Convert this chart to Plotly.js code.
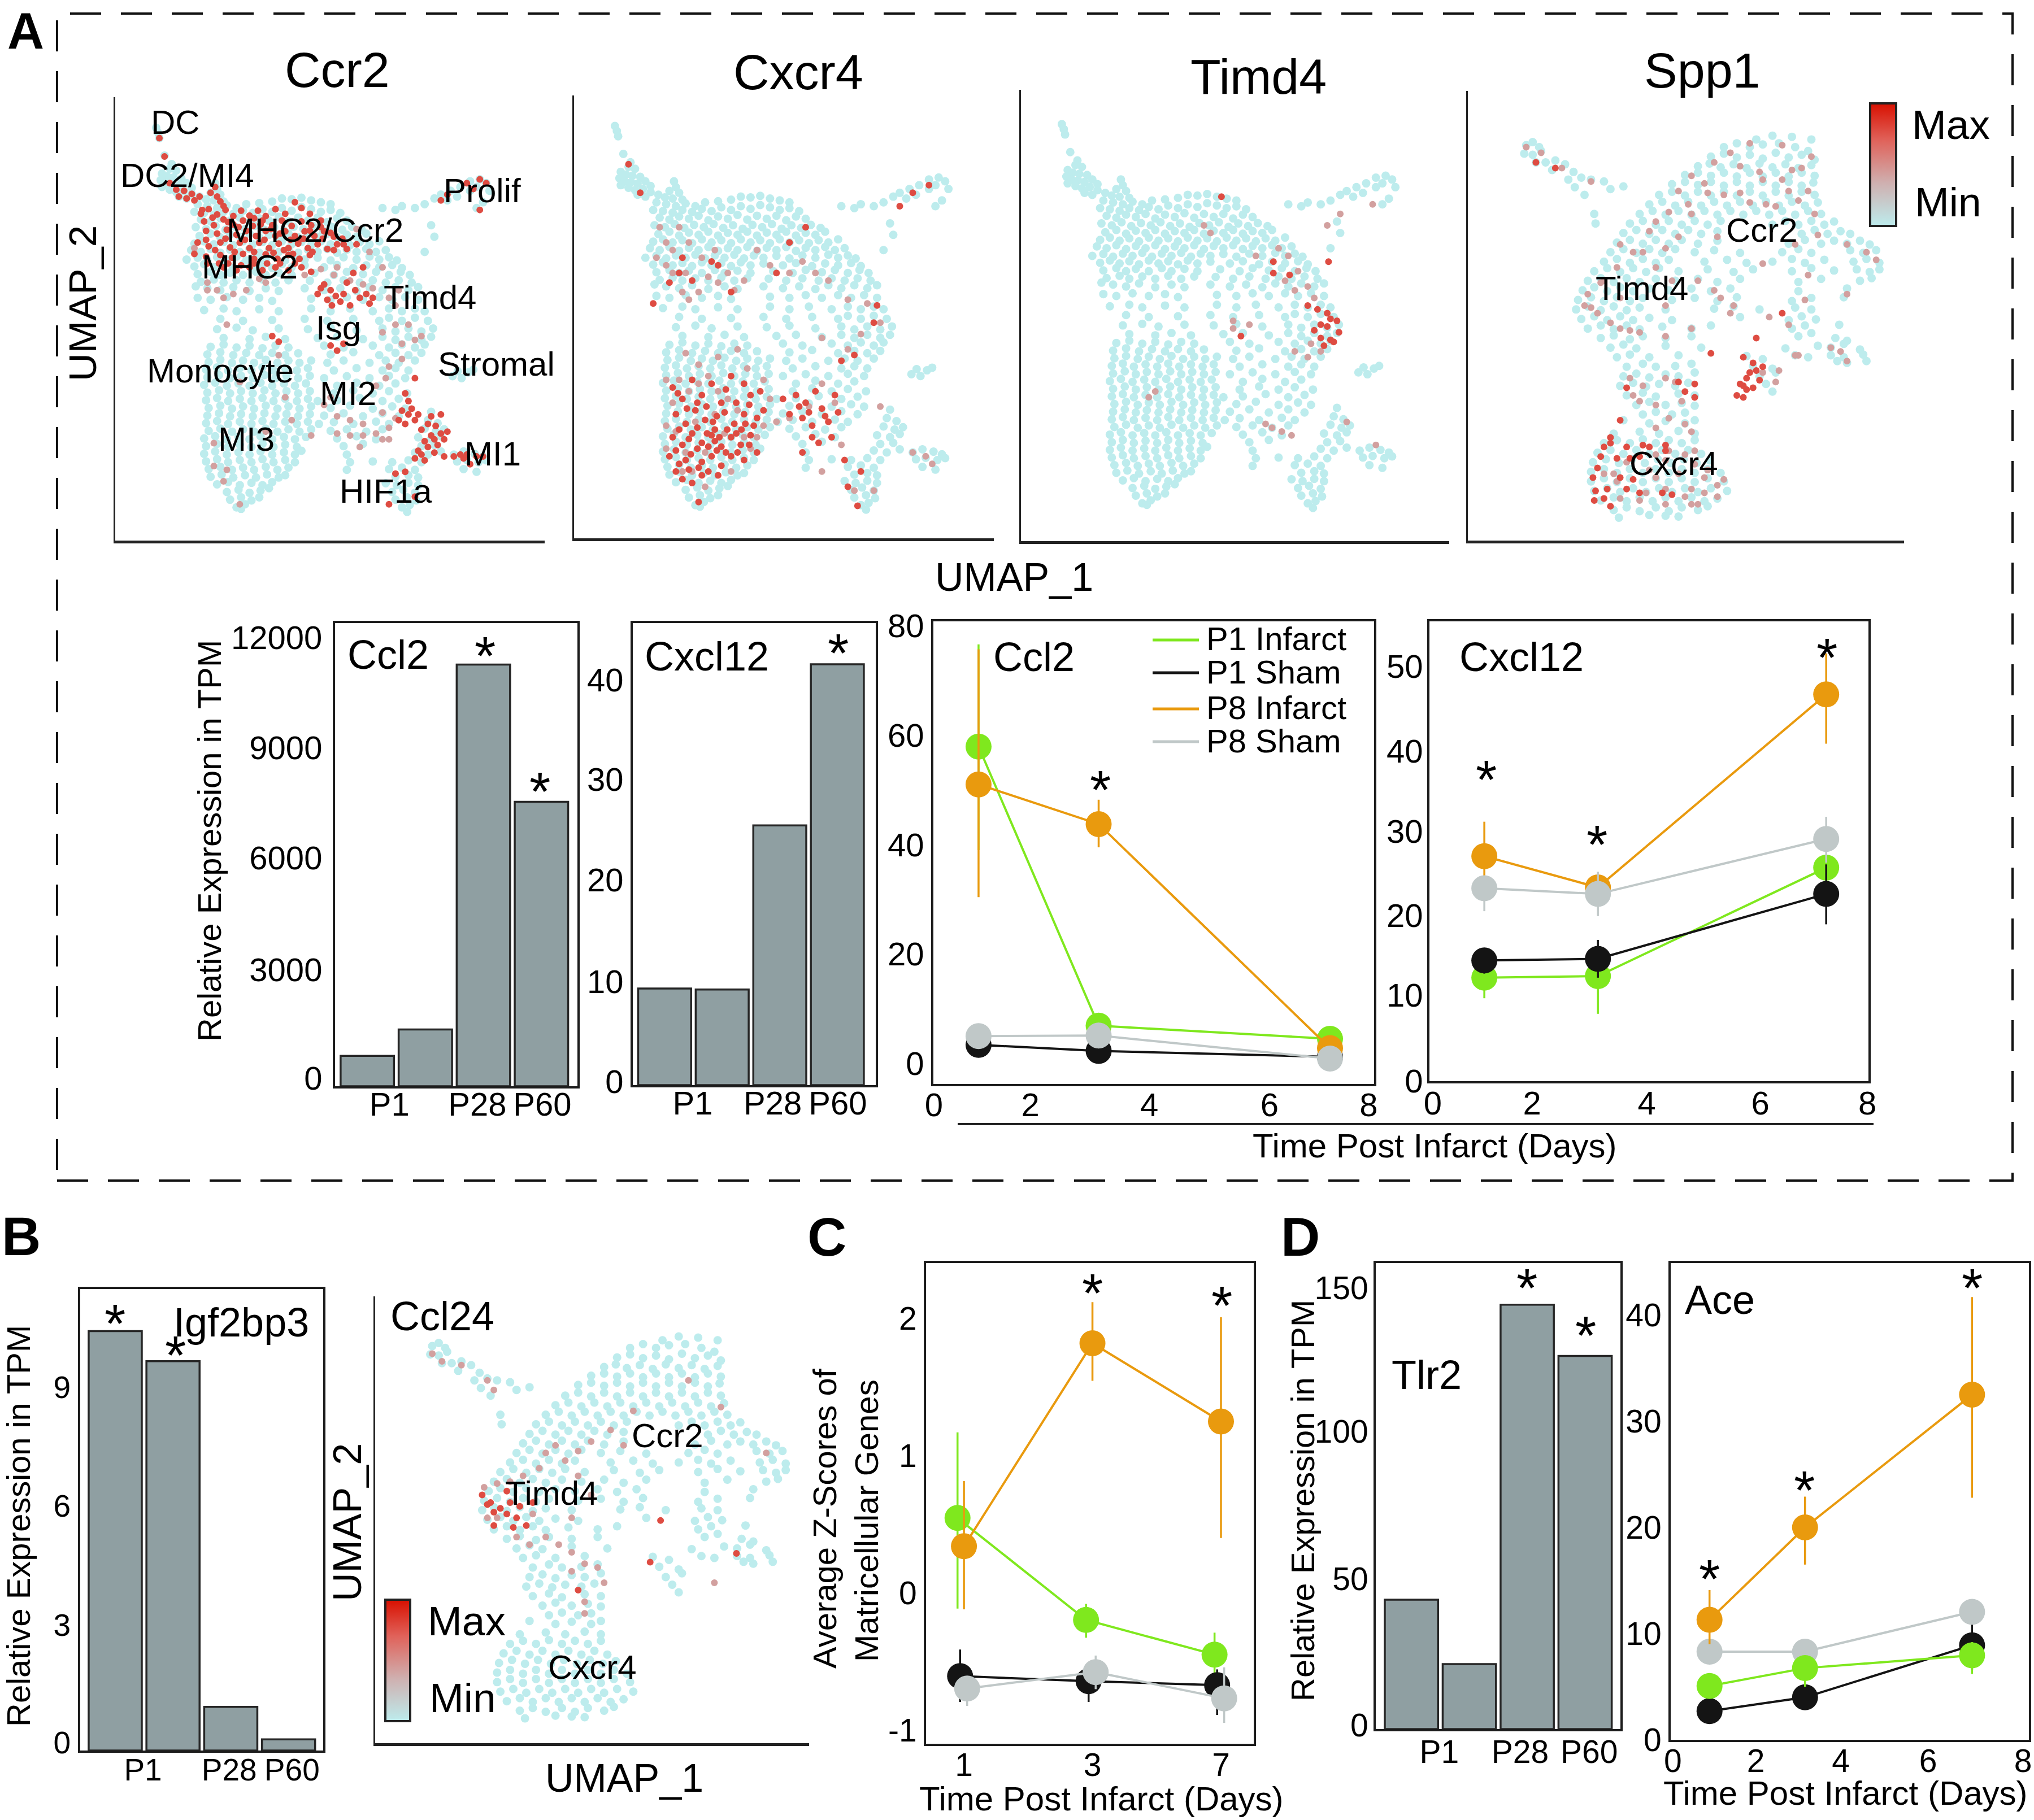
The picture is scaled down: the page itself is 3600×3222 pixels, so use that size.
<!DOCTYPE html>
<html><head><meta charset="utf-8">
<script src="https://cdn.plot.ly/plotly-3.0.1.min.js"></script>
<style>html,body{margin:0;padding:0;background:#fff}</style></head>
<body><div id="chart" style="width:3600px;height:3222px"></div>
<script>
/* ---------- bar charts ---------- */
const barPositions=[0,1,2,3];
const stageLabels=['P1','P28','P60'];
const ccl2Bars=[813,1519,11293,7616];
const cxcl12Bars=[9.6,9.5,25.8,41.8];
const igf2bp3Bars=[10.58,9.82,1.1,0.28];
const tlr2Bars=[44.4,22.3,145.6,128];
/* ---------- time courses: mean, upper, lower ---------- */
const ccl2Days=[0.82,3,7.2];
const ccl2P1I=[57.9,6.9,4.5],ccl2P1IHi=[76.6,6.9,4.5],ccl2P1ILo=[39,6.9,4.5];
const ccl2P1S=[3.4,2.3,1.2],ccl2P1SHi=[3.4,2.3,1.2],ccl2P1SLo=[3.4,2.3,1.2];
const ccl2P8I=[51,43.75,2.8],ccl2P8IHi=[75.7,48.2,4.5],ccl2P8ILo=[30.4,39.5,1.5];
const ccl2P8S=[5,5.1,0.9],ccl2P8SHi=[5,5.1,0.9],ccl2P8SLo=[5,5.1,0.9];
const cxcl12Days=[1,3.07,7.23];
const cxcl12P1I=[12.1,12.3,25.5],cxcl12P1IHi=[15,15.6,27],cxcl12P1ILo=[9.6,7.7,24];
const cxcl12P1S=[14.2,14.4,22.3],cxcl12P1SHi=[15.6,16.7,25.9],cxcl12P1SLo=[12.6,12.1,18.6];
const cxcl12P8I=[26.9,23.1,46.6],cxcl12P8IHi=[31.1,24.5,51.6],cxcl12P8ILo=[22.7,21.6,40.6];
const cxcl12P8S=[23,22.3,29],cxcl12P8SHi=[24.4,25,31.7],cxcl12P8SLo=[20.2,19.6,26.1];
const matriIdx=[0,1,2];
const matriDays=['1','3','7'];
const matriP1I=[0.546,-0.197,-0.45],matriP1IHi=[1.17,-0.08,-0.29],matriP1ILo=[-0.115,-0.327,-0.616];
const matriP1S=[-0.607,-0.644,-0.673],matriP1SHi=[-0.413,-0.53,-0.558],matriP1SLo=[-0.795,-0.795,-0.89];
const matriP8I=[0.34,1.82,1.25],matriP8IHi=[0.815,2.12,2.01],matriP8ILo=[-0.12,1.546,0.4];
const matriP8S=[-0.697,-0.578,-0.769],matriP8SHi=[-0.616,-0.457,-0.543],matriP8SLo=[-0.824,-0.702,-0.948];
const aceDays=[0.867,3,6.73];
const aceP1I=[5.07,6.75,7.95],aceP1IHi=[5.07,7.5,9.2],aceP1ILo=[5.07,5,6.2];
const aceP1S=[2.7,4,8.9],aceP1SHi=[2.7,4,11.2],aceP1SLo=[2.7,4,6.6];
const aceP8I=[11.3,20,32.5],aceP8IHi=[14.1,22.9,41.7],aceP8ILo=[9,16.5,22.8];
const aceP8S=[8.3,8.3,12.05],aceP8SHi=[8.3,8.3,12.05],aceP8SLo=[8.3,8.3,12.05];
/* ---------- UMAP embedding shared by Ccr2, Cxcr4, Timd4 (x,y pairs) ---------- */
const embedA=[241,335,244,348,246,362,254,408,265,430,262,442,272,447,250,455,258,462,268,465,280,468,248,472,256,480,266,482,276,486,288,480,296,492,250,490,262,497,272,503,284,500,296,508,308,515,276,515,288,520,332,480,335,495,325,505,340,510,318,522,330,525,345,528,
305,535,320,540,335,545,350,538,365,545,380,535,400,532,420,528,435,520,450,522,465,518,480,525,495,530,510,535,300,555,315,558,330,562,345,555,360,560,375,552,390,558,405,548,420,555,435,545,450,552,465,542,480,548,495,555,510,550,525,558,
310,575,325,580,340,572,355,578,370,570,385,582,400,572,415,578,430,568,445,580,460,570,475,578,490,570,505,582,520,572,535,578,302,595,318,600,333,592,348,602,363,594,378,600,393,592,408,602,423,595,438,604,453,594,468,600,483,592,498,604,513,595,528,602,543,594,558,602,
308,618,325,612,340,622,355,614,370,620,385,612,400,622,415,615,430,620,445,612,460,622,475,614,490,620,505,612,520,622,535,615,550,620,565,612,300,638,315,632,330,640,345,634,360,642,375,632,390,640,405,634,420,642,435,632,450,640,465,634,480,642,495,632,510,640,525,634,540,642,555,634,570,640,585,632,
295,655,310,660,325,652,340,662,355,654,370,660,385,652,400,662,415,655,430,660,445,652,460,662,475,654,490,660,505,652,520,662,535,654,550,660,565,652,580,660,595,655,288,680,305,675,320,682,335,674,350,680,365,672,380,682,395,674,410,680,425,672,440,682,455,674,470,680,490,675,510,682,530,674,550,680,570,672,585,680,600,674,612,682,
300,698,315,692,330,700,345,694,360,702,375,692,390,700,405,694,420,702,435,692,450,700,470,695,500,700,520,694,545,702,565,695,585,700,605,694,620,702,305,718,325,712,340,720,355,714,375,720,395,712,410,720,430,714,450,720,485,715,515,720,535,712,560,718,580,712,600,720,618,712,632,720,
310,738,330,732,345,740,365,734,385,740,405,732,425,740,445,734,478,735,505,740,530,734,555,740,575,734,595,740,615,734,635,740,302,750,320,755,340,760,360,752,385,762,410,755,430,762,470,755,500,760,525,755,550,762,570,752,590,760,610,752,630,760,645,752,
305,780,325,785,350,778,375,785,400,780,420,788,480,782,510,785,535,778,560,785,585,778,605,785,625,778,645,785,315,812,345,808,365,815,400,810,430,815,480,808,510,815,540,808,575,815,600,808,620,815,640,808,655,815,340,835,375,840,420,838,470,835,505,840,545,835,585,840,600,832,620,840,640,832,660,840,
335,862,365,858,390,865,430,860,475,862,510,858,550,865,590,860,610,868,630,860,650,868,668,860,345,885,385,888,410,882,440,888,490,885,520,882,560,888,590,882,610,890,630,882,650,890,665,882,325,908,345,902,365,910,385,905,405,912,425,905,445,910,500,905,530,910,575,905,600,910,620,902,640,910,655,902,
320,928,340,922,360,930,380,924,400,930,420,924,440,930,460,925,510,928,545,922,585,930,610,924,630,930,650,924,322,948,340,942,358,950,375,944,392,950,410,942,428,950,445,944,462,950,480,944,505,950,530,944,570,950,595,944,615,950,640,944,318,968,335,962,352,970,370,964,388,970,405,962,422,970,440,964,458,970,475,964,515,970,550,964,590,970,610,964,630,970,698,985,712,990,722,975,730,968,706,972,
320,988,338,982,355,990,372,984,390,990,408,982,425,990,442,984,460,990,478,984,500,990,535,985,570,990,600,984,625,990,315,1008,332,1002,350,1010,368,1004,385,1010,402,1002,420,1010,438,1004,455,1010,472,1004,520,1010,550,1002,585,1010,610,1004,320,1028,338,1022,355,1030,372,1024,390,1030,408,1022,425,1030,442,1024,460,1030,478,1024,515,1030,545,1022,575,1030,600,1024,628,1030,
318,1048,335,1042,352,1050,370,1044,388,1050,405,1042,422,1050,440,1044,458,1050,475,1044,490,1050,520,1048,555,1042,590,1050,615,1044,322,1068,340,1062,358,1070,375,1064,392,1070,410,1062,428,1070,445,1064,462,1070,480,1064,510,1068,540,1062,575,1070,605,1064,625,1070,320,1088,338,1082,355,1090,372,1084,390,1090,408,1082,425,1090,442,1084,460,1090,478,1084,500,1088,530,1082,560,1090,590,1082,615,1090,665,1078,
318,1108,335,1102,352,1110,370,1104,388,1110,405,1102,422,1110,440,1104,458,1110,475,1104,492,1110,515,1105,545,1110,580,1104,600,1110,660,1100,675,1108,322,1128,340,1122,358,1130,375,1124,392,1130,410,1122,428,1130,445,1124,462,1130,480,1124,510,1128,535,1124,565,1130,590,1124,655,1122,672,1130,685,1124,315,1148,332,1142,350,1150,368,1144,385,1150,402,1142,420,1150,438,1144,455,1150,472,1144,520,1148,550,1142,580,1150,645,1145,665,1150,680,1142,
318,1168,335,1162,352,1170,370,1164,388,1170,405,1162,422,1170,440,1164,458,1170,530,1168,560,1162,650,1168,670,1165,315,1188,332,1182,350,1190,368,1184,385,1190,402,1182,420,1190,438,1184,455,1190,465,1180,535,1190,640,1185,660,1190,680,1182,700,1190,715,1182,732,1188,745,1195,318,1208,335,1202,352,1210,370,1204,388,1210,405,1202,422,1210,440,1204,455,1210,540,1210,575,1208,605,1210,630,1205,650,1210,705,1208,720,1204,738,1210,750,1205,
322,1228,340,1222,358,1230,375,1224,392,1230,410,1222,428,1230,445,1224,535,1230,600,1228,620,1224,640,1230,715,1228,735,1235,325,1248,342,1242,360,1250,378,1244,395,1250,412,1242,430,1250,440,1244,610,1248,630,1244,645,1250,335,1268,352,1262,370,1270,388,1264,405,1270,420,1262,595,1265,612,1270,630,1264,645,1270,350,1288,368,1282,385,1290,402,1284,415,1278,605,1288,622,1282,640,1290,355,1308,372,1302,388,1310,400,1302,610,1308,628,1302,642,1310,365,1328,378,1320,372,1332,620,1328,632,1322,628,1340,
590,545,610,550,620,540,640,545,655,535,670,520,680,510,695,500,710,490,725,475,740,470,750,480,755,500,745,530,735,545,665,590,670,620,655,660,725,500,705,515,690,525,735,490];
const ccr2Hot=[246,362,254,410,262,480,272,497,284,500,296,508,300,525,308,515,288,520,276,515,332,490,325,505,335,515,340,528,345,540,310,560,322,548,335,562,348,550,360,566,372,552,385,565,398,552,410,566,425,548,440,560,455,530,465,545,478,560,315,580,330,590,345,575,360,588,375,578,390,592,405,578,420,590,435,578,450,592,465,580,480,590,495,578,318,605,335,612,350,602,365,615,380,605,395,618,410,605,425,618,440,606,455,618,470,606,485,618,500,606,515,620,305,635,322,645,340,635,355,648,370,636,385,650,400,636,415,650,430,638,445,650,460,638,475,650,490,640,505,652,520,640,535,652,550,640,300,665,318,672,340,668,358,675,375,665,392,678,410,666,428,678,445,668,462,678,478,668,345,700,365,708,385,700,405,708,425,700,445,708,465,700,480,712,500,745,510,760,518,775,490,770,505,785,525,790,540,800,555,780,570,795,545,715,560,700,530,900,510,905,520,918,420,880,430,895,640,990,625,1030,630,1050,620,1075,630,1085,615,1100,640,1100,625,1110,650,1125,665,1090,680,1085,672,1115,680,1135,665,1140,670,1150,655,1155,685,1150,660,1170,670,1185,650,1190,640,1200,685,1195,700,1195,715,1200,745,1195,725,1215,710,1190,610,1240,625,1235,600,1320,640,1300,690,510,740,470,750,480,730,495,720,480,740,550,680,525,
312,550,328,570,352,582,368,595,392,572,402,588,418,600,432,612,448,628,462,628,478,604,495,595,510,610,528,625,318,628,332,655,348,625,362,660,378,628,392,660,408,628,422,662,438,655,452,665,468,625,482,660,498,625,515,655,530,640,320,690,338,690,352,690,372,695,392,690,412,690,432,690,455,690,495,755,530,770,512,800,548,760,565,770,575,780,535,740,635,1070,645,1085,660,1110,690,1130,675,1165,645,1180,655,1205,720,1190,735,1195];
const ccr2Warm=[300,650,345,780,350,850,320,760,500,1060,520,1090,560,1110,580,1135,600,1120,590,1150,540,1100,510,1040,600,960,620,900,640,890,610,850,590,870,370,1000,330,1220,345,1260,370,1320,550,600,570,660,590,700,520,700,410,740,380,760,440,1040,410,1130,600,780,615,760,560,745,430,930,
320,740,335,760,360,770,400,730,470,720,495,705,515,720,540,735,575,755,610,800,630,850,650,880,620,940,595,990,580,1010,450,1100,480,1140,520,1135,560,1140,600,1150,610,1095,590,1080,540,1140,555,1170,330,1160,350,1230];
const cxcr4Hot=[330,1020,345,1050,360,1000,375,1040,390,1010,405,1060,420,990,440,1010,450,1040,465,1030,335,1090,350,1115,365,1080,380,1105,395,1130,410,1085,425,1115,440,1090,455,1120,470,1080,330,1150,345,1170,360,1140,375,1165,390,1145,395,1160,405,1175,420,1150,435,1170,450,1145,325,1200,340,1220,358,1195,375,1215,390,1200,405,1225,420,1200,440,1210,460,1190,345,1260,360,1270,375,1250,370,1320,520,1040,535,1060,550,1030,560,1075,530,1100,545,1120,500,1050,570,1110,575,1150,555,1165,530,1190,595,1210,600,1280,620,1240,615,1330,300,800,325,745,340,720,360,740,390,690,400,700,345,680,420,770,510,640,490,720,535,600,590,950,610,935,640,850,645,805,580,1040,262,435,280,510,700,510,680,545,725,490,
338,1035,352,1075,368,1060,382,1070,398,1095,412,1025,428,1060,436,1130,448,1065,460,1100,340,1130,355,1155,368,1125,383,1140,392,1110,402,1150,414,1130,428,1140,442,1115,335,1185,350,1210,368,1180,385,1175,398,1185,412,1190,430,1190,448,1170,335,1240,355,1235,370,1230,385,1240,400,1250,510,1090,525,1070,540,1085,565,1095,585,1085,545,1150];
const cxcr4Warm=[310,600,320,640,330,660,305,680,340,600,355,640,375,680,395,660,345,770,370,770,400,745,425,765,440,740,460,660,480,700,510,720,530,690,550,720,570,740,600,790,630,800,650,850,620,880,600,920,560,890,340,1000,355,1030,370,1010,385,990,400,1030,415,1050,430,1080,320,1120,335,1135,350,1190,365,1110,380,1190,395,1090,410,1140,440,1150,450,1180,420,1240,380,1280,360,1240,560,1010,510,1100,490,1110,580,1060,540,1070,590,1170,610,1290,560,1240,640,1290,720,1200,700,1190,730,1220,650,1070,
320,1000,330,1060,345,1240,320,1180,350,930,370,960,400,940,430,920,445,970,470,1000,480,1050,470,1120,460,1150,330,720,320,700,350,720,415,720,385,730,355,790];
const timd4Hot=[620,810,635,820,650,830,655,845,640,860,650,865,665,850,630,875,640,895,655,900,668,880,645,915,660,905,567,695,567,725,592,730,652,695,517,890,487,525];
const timd4Warm=[540,680,575,660,590,680,605,720,620,760,630,790,600,770,585,745,505,850,505,870,530,860,600,930,620,945,640,930,625,910,460,600,470,620,385,1035,375,1050,555,1120,565,1130,580,1140,595,1150,680,1115,725,1175,720,545,670,570,650,600];
/* ---------- UMAP embedding shared by Spp1, Ccl24 (x,y pairs) ---------- */
const embedB=[785,380,795,372,805,385,782,402,795,405,808,395,800,425,815,425,830,420,825,445,845,430,858,450,850,470,870,465,885,470,860,490,875,510,905,475,935,488,890,560,892,585,915,495,1140,365,1165,355,1195,358,1225,365,1090,385,1110,375,1130,385,1150,378,1175,375,1200,385,1220,395,1070,410,1090,402,1110,412,1130,405,1150,415,1170,400,1190,412,1210,405,1230,418,1050,435,1068,428,1085,438,1105,430,1125,440,1145,428,1165,438,1185,430,1205,440,1225,432,1030,458,1050,452,1070,460,1090,452,1110,462,1130,452,1150,462,1170,452,1190,462,1210,452,1230,460,
1010,482,1030,476,1050,484,1070,476,1090,486,1110,476,1130,486,1150,476,1170,486,1190,476,1210,486,1228,478,990,510,1010,502,1030,512,1050,502,1070,512,1090,502,1110,512,1130,502,1150,512,1170,502,1190,512,1210,502,1230,510,975,535,995,528,1015,538,1035,528,1055,538,1075,528,1095,538,1115,528,1135,538,1155,528,1175,538,1195,528,1215,538,1235,530,960,560,980,552,1000,562,1020,552,1040,562,1060,552,1080,562,1100,552,1120,562,1140,552,1160,562,1180,552,1200,562,1220,552,1240,560,
945,585,965,578,985,588,1005,578,1025,588,1045,578,1065,588,1085,578,1165,588,1185,578,1205,588,1225,578,1245,588,1260,580,935,610,955,602,975,612,995,602,1015,612,1035,602,1055,612,1080,605,1210,612,1230,602,1250,612,1270,605,1285,612,925,635,945,628,965,638,985,628,1005,638,1025,628,1050,638,1080,630,1190,638,1215,628,1240,638,1260,630,1280,638,1300,630,1315,640,915,660,935,652,955,662,975,652,995,662,1015,652,1045,660,1075,655,1115,662,1180,660,1205,652,1225,662,1285,655,1305,662,1325,655,
905,685,925,678,945,688,965,678,985,688,1005,680,1060,685,1095,680,1125,688,1165,685,1195,678,1215,688,1245,680,1290,685,1310,678,1330,688,890,710,910,702,930,712,950,702,970,712,990,702,1020,710,1065,705,1105,712,1135,705,1195,710,1225,702,1260,708,1295,705,1315,712,1330,705,880,735,900,728,920,738,940,728,960,738,985,730,1015,735,1050,730,1080,738,1115,730,1205,738,1240,730,1300,735,1318,728,872,760,890,752,910,762,930,752,950,762,975,755,1005,760,1040,755,1070,762,1100,755,1205,762,1280,755,
865,785,885,778,905,788,925,778,945,788,965,780,1010,785,1045,780,1080,788,1110,778,1195,788,1225,780,1275,778,862,810,880,802,900,812,920,802,940,812,960,805,1000,810,1075,808,1105,802,1145,810,1200,805,1225,810,870,835,890,828,910,838,930,828,950,838,975,832,1010,838,1115,830,1190,838,1210,828,1232,836,880,860,900,852,920,862,940,852,960,862,995,855,1040,860,1070,852,1195,860,1215,852,1268,850,900,885,920,878,945,888,965,880,1000,885,1040,880,1205,880,1225,872,1262,885,1280,892,
915,910,935,902,955,912,1000,905,1055,910,1185,912,1235,905,1255,910,1275,900,1300,915,925,935,945,928,975,935,1020,930,1125,932,1150,940,1200,930,1220,935,1255,930,1275,935,1305,928,1310,945,940,960,965,952,985,960,1015,958,1040,952,1135,958,1165,965,1265,945,1280,950,935,985,955,978,975,988,1000,980,1020,985,1045,975,1145,985,1170,975,930,1010,950,1002,970,1012,990,1005,1015,1010,1035,1002,1155,1005,940,1035,965,1028,985,1038,1020,1030,1045,1035,1165,1025,955,1060,975,1052,1000,1060,1025,1055,1045,1062,965,1085,985,1078,1010,1085,1030,1080,935,1100,975,1108,1000,1102,1030,1108,1045,1100,920,1135,960,1130,990,1135,1020,1128,1045,1135,
905,1160,925,1152,945,1160,965,1150,985,1160,1005,1152,1025,1160,1045,1152,895,1185,915,1178,935,1188,955,1178,975,1188,995,1178,1015,1188,1035,1178,1055,1188,888,1210,908,1202,928,1212,948,1202,968,1212,988,1202,1008,1212,1028,1202,1048,1212,1068,1205,885,1235,905,1228,925,1238,945,1228,965,1238,985,1228,1005,1238,1025,1228,1045,1238,1065,1228,1085,1238,885,1260,905,1252,925,1262,945,1252,965,1262,985,1252,1005,1262,1025,1252,1045,1262,1065,1252,1090,1260,890,1285,910,1278,930,1288,950,1278,970,1288,990,1278,1010,1288,1030,1278,1050,1288,1070,1278,1095,1285,900,1310,920,1302,940,1312,960,1302,980,1312,1000,1302,1020,1312,1040,1302,1060,1312,1080,1305,920,1335,940,1328,960,1338,985,1328,1005,1338,1025,1328,1050,1335,1065,1325,928,1355,975,1348,1000,1350,1020,1352];
const spp1Hot=[1140,885,1120,935,1135,950,1150,960,1140,970,1125,990,1115,1005,1125,1020,1135,1015,1110,1035,1120,1040,1070,925,1045,1005,940,1015,1020,1000,1030,1025,1045,1040,930,1100,915,1145,905,1170,900,1195,895,1225,888,1250,892,1285,915,1160,940,1170,965,1165,1000,1165,925,1200,960,1195,950,1255,890,1310,915,1325,995,1290,1010,1295,960,1290,940,1280,800,425,830,440,1180,820,1000,1180,975,1170,945,1200,930,1250,910,1280,905,1305,1130,975,1145,995,1120,1010];
const spp1Warm=[785,385,808,400,840,440,885,475,1040,460,1060,480,1100,400,1130,375,1180,380,1210,440,1190,500,1150,470,1020,500,985,580,1040,560,1090,510,1130,530,1170,540,1220,500,1230,560,1080,620,1020,620,965,660,930,640,1150,690,1220,720,1280,770,1310,660,1270,920,1200,930,1100,820,1160,830,1190,850,1040,860,1000,880,960,870,930,860,895,820,875,800,900,740,930,780,1075,760,1105,800,1000,800,920,1240,940,1210,975,1230,1000,1205,1030,1190,1045,1215,1060,1250,1080,1300,1040,1280,1020,1240,985,1250,960,1310,930,1305,1000,1320,1040,1320,945,990,965,1010,1000,990,1025,1050,1015,1000,950,1035,985,1120,1030,1110,1280,945,
1075,425,1115,435,1145,450,1195,445,1225,410,1180,470,1205,525,1155,535,1115,505,1065,505,1035,535,1005,555,975,605,1000,650,950,660,925,700,905,735,880,770,885,805,915,845,945,865,985,700,1010,735,1050,735,1085,780,1215,785,1200,640,1235,615,1280,640,1325,680,1255,910,1205,930,1150,975,1175,970,1170,1000,960,1050,985,1060,1005,1095,1040,1130,1005,1180,985,1190,1045,1180,1065,1230,1000,1280,1030,1300,1060,1290,970,1290,925,1260,905,1240,1090,1255,1080,1270,1050,1320];
const ccl24Hot=[862,770,870,795,880,815,875,790,890,805,900,820,905,790,915,830,920,800,900,760,930,850,880,850,910,855,940,790,1137,837,1121,946,1010,1019,1254,923];
const ccl24Warm=[865,750,885,740,905,735,925,720,950,700,960,660,975,640,990,680,1010,720,1030,770,940,820,960,880,980,900,1000,830,915,880,935,900,885,830,870,830,1060,600,1080,640,1030,630,1010,655,1000,920,1020,950,1040,960,1050,1000,1000,970,1020,1050,785,400,800,420,830,430,870,470,880,495,1095,550,1180,470,1230,540,1020,1080,1220,1000,1300,660];

/* ---------- styling and layout ---------- */
const W=3600,H=3222,FONT='"Liberation Sans", Arial, sans-serif';
const COL={pi:'#7fe81e',ps:'#141414',oi:'#e99a0e',os:'#c0c8c8'};
const heat=[[0,'#bdeced'],[0.35,'#cfb0b0'],[0.7,'#e0625a'],[1,'#d81000']];
const traces=[];
const layout={width:W,height:H,margin:{l:0,r:0,t:0,b:0},paper_bgcolor:'#fff',plot_bgcolor:'rgba(0,0,0,0)',showlegend:false,
  font:{family:FONT,color:'#000'},annotations:[],shapes:[]};
let nAxis=0;
function addAxes(rect,xo,yo){
  nAxis++;const s=nAxis===1?'':nAxis;
  const base={showgrid:false,zeroline:false,ticks:'',automargin:false,color:'#000',tickfont:{family:FONT,color:'#000'}};
  layout['xaxis'+s]=Object.assign({},base,{domain:[rect[0]/W,rect[2]/W],anchor:'y'+s},xo);
  layout['yaxis'+s]=Object.assign({},base,{domain:[1-rect[3]/H,1-rect[1]/H],anchor:'x'+s},yo);
  return {xaxis:'x'+s,yaxis:'y'+s};
}
function note(text,x,y,size,o){
  layout.annotations.push(Object.assign({text:text,x:x/W,y:1-y/H,xref:'paper',yref:'paper',showarrow:false,
    font:{size:size,family:FONT,color:'#000'},xanchor:'center',yanchor:'middle',borderpad:0},o||{}));
}
const star=(x,y)=>note('*',x,y+8,96);
const pair=(a,i)=>a.filter((_,k)=>k%2===i);
function umap(rect,xr,yr,pale,warm,hot,bar){
  const ax=addAxes(rect,{range:xr,showline:true,linecolor:'#222',linewidth:5,showticklabels:false},
                        {range:yr,showline:true,linecolor:'#222',linewidth:3,showticklabels:false});
  const mk=(a,c,sz,extra)=>traces.push(Object.assign({type:'scatter',mode:'markers',x:pair(a,0),y:pair(a,1),hoverinfo:'skip',
    marker:Object.assign({size:sz,line:{width:0},color:a.filter((_,k)=>k%2===0).map(()=>c),colorscale:heat,cmin:0,cmax:1},extra||{})},ax));
  mk(pale,0,15);mk(warm,0.42,12);
  mk(hot,0.78,12,bar?{showscale:true,colorbar:{xref:'paper',yref:'paper',x:bar[0]/W,xanchor:'left',y:1-bar[3]/H,yanchor:'bottom',
    lenmode:'pixels',len:bar[3]-bar[1],thicknessmode:'pixels',thickness:bar[2]-bar[0],xpad:0,ypad:0,ticks:'',showticklabels:false,
    outlinecolor:'#222',outlinewidth:4}}:{});
}
function bars(rect,vals,xr,xt,yr,yv,yt,fs,sx,sy){
  const ax=addAxes(rect,{range:xr,tickmode:'array',tickvals:xt,ticktext:stageLabels,tickfont:{size:fs,family:FONT,color:'#000'},
      showline:true,mirror:true,linecolor:'#1c1c1c',linewidth:4,ticklabelstandoff:sx},
    {range:yr,tickmode:'array',tickvals:yv,ticktext:yt,tickfont:{size:fs,family:FONT,color:'#000'},
      showline:true,mirror:true,linecolor:'#1c1c1c',linewidth:4,ticklabelstandoff:sy});
  traces.push(Object.assign({type:'bar',x:barPositions,y:vals,width:0.92,marker:{color:'#8f9fa2',line:{color:'#262626',width:3.5}},hoverinfo:'y'},ax));
}
function lines(rect,xr,xv,xt,yr,yv,yt,series,fs,sx,sy){
  const ax=addAxes(rect,{range:xr,tickmode:'array',tickvals:xv,ticktext:xt,tickfont:{size:fs,family:FONT,color:'#000'},
      showline:true,mirror:true,linecolor:'#1c1c1c',linewidth:4,ticklabelstandoff:sx},
    {range:yr,tickmode:'array',tickvals:yv,ticktext:yt,tickfont:{size:fs,family:FONT,color:'#000'},
      showline:true,mirror:true,linecolor:'#1c1c1c',linewidth:4,ticklabelstandoff:sy});
  series.forEach(s=>{
    traces.push(Object.assign({type:'scatter',mode:'lines+markers',name:s.name,x:s.x,y:s.y,
      line:{color:s.c,width:4},marker:{color:s.c,size:46,line:{width:0}},
      error_y:{type:'data',symmetric:false,array:s.hi.map((v,i)=>v-s.y[i]),arrayminus:s.lo.map((v,i)=>s.y[i]-v),color:s.c,thickness:3.5,width:0}},ax));
  });
}
const S=(name,c,x,y,hi,lo)=>({name,c,x,y,hi,lo});

/* Panel A: UMAPs */
umap([204,172,964,957],[178,840],[1415,255],embedA,ccr2Warm,ccr2Hot);
umap([1016,169,1759,953],[178,825],[1415,255],embedA,cxcr4Warm,cxcr4Hot);
umap([1807,159,2565,958],[178,838],[1427,245],embedA,timd4Warm,timd4Hot);
umap([2598,161,3370,957],[695,1368],[1415,238],embedB,spp1Warm,spp1Hot,[3310,183,3356,400]);
/* Panel B UMAP */
umap([664,2295,1432,3086],[697,1366],[1420,250],embedB,ccl24Warm,ccl24Hot,[682,2832,726,3047]);

/* Bars */
bars([593,1103,1022,1923],ccl2Bars,[-0.556,3.62],[0.38,1.895,3.016],[0,12406],[213,3116,6116,9068,12019],['0','3000','6000','9000','12000'],58,-22,7);
bars([1120,1103,1550,1921],cxcl12Bars,[-0.553,3.667],[0.488,1.878,3.008],[0,45.9],[0.36,10.3,20.36,30.4,40.25],['0','10','20','30','40'],58,-22,1);
bars([142,2282,572,3099],igf2bp3Bars,[-0.606,3.6],[0.48,1.973,3.06],[0,11.64],[0.2,3.17,6.17,9.17],['0','3','6','9'],55,-17,2);
bars([2435,2236,2868,3061],tlr2Bars,[-0.616,3.61],[0.48,1.877,3.07],[0,159.9],[1.36,51.6,102.2,151.4],['0','50','100','150'],57,-12,-2);

/* Time courses */
const TK=['0','2','4','6','8'];
lines([1652,1100,2432,1919],[0,8],[0.01,1.76,3.92,6.1,7.9],TK,[-3.75,80.8],[0,20,40,60,80],['0','20','40','60','80'],[
  S('P1 Infarct',COL.pi,ccl2Days,ccl2P1I,ccl2P1IHi,ccl2P1ILo),S('P1 Sham',COL.ps,ccl2Days,ccl2P1S,ccl2P1SHi,ccl2P1SLo),
  S('P8 Infarct',COL.oi,ccl2Days,ccl2P8I,ccl2P8IHi,ccl2P8ILo),S('P8 Sham',COL.os,ccl2Days,ccl2P8S,ccl2P8SHi,ccl2P8SLo)],58,-17,1);
lines([2530,1100,3307,1914],[0,8],[0.06,1.87,3.96,6.03,7.98],TK,[-0.5,55.5],[-0.45,10,19.65,29.9,39.7,50],['0','10','20','30','40','50'],[
  S('P1 Infarct',COL.pi,cxcl12Days,cxcl12P1I,cxcl12P1IHi,cxcl12P1ILo),S('P1 Sham',COL.ps,cxcl12Days,cxcl12P1S,cxcl12P1SHi,cxcl12P1SLo),
  S('P8 Infarct',COL.oi,cxcl12Days,cxcl12P8I,cxcl12P8IHi,cxcl12P8ILo),S('P8 Sham',COL.os,cxcl12Days,cxcl12P8S,cxcl12P8SHi,cxcl12P8SLo)],58,-15,-4);
const dodge=(d)=>matriIdx.map(v=>v+d);
lines([1639,2236,2219,3087],[-0.295,2.255],matriIdx,matriDays,[-1.1,2.405],[-1,0,1,2],['-1','0','1','2'],[
  S('P1 Infarct',COL.pi,dodge(-0.05),matriP1I,matriP1IHi,matriP1ILo),S('P1 Sham',COL.ps,dodge(-0.03),matriP1S,matriP1SHi,matriP1SLo),
  S('P8 Infarct',COL.oi,dodge(0),matriP8I,matriP8IHi,matriP8ILo),S('P8 Sham',COL.os,dodge(0.025),matriP8S,matriP8SHi,matriP8SLo)],57,-15,1);
lines([2957,2236,3591,3080],[0,8],[0.05,1.9,3.8,5.75,7.87],TK,[0,44.9],[0.02,10,20,30,40],['0','10','20','30','40'],[
  S('P1 Sham',COL.ps,aceDays,aceP1S,aceP1SHi,aceP1SLo),S('P8 Sham',COL.os,aceDays,aceP8S,aceP8SHi,aceP8SLo),
  S('P1 Infarct',COL.pi,aceDays,aceP1I,aceP1IHi,aceP1ILo),S('P8 Infarct',COL.oi,aceDays,aceP8I,aceP8IHi,aceP8ILo)],57,-15,1);

/* Frame, rules, legend keys */
layout.shapes.push({type:'rect',xref:'paper',yref:'paper',x0:101/W,x1:3562/W,y0:1-2090/H,y1:1-24/H,line:{color:'#111',width:4,dash:'55px,35px'}});
layout.shapes.push({type:'line',xref:'paper',yref:'paper',x0:1695/W,x1:3316/W,y0:1-1990/H,y1:1-1990/H,line:{color:'#222',width:4}});
[[1133,COL.pi,'P1 Infarct'],[1191,COL.ps,'P1 Sham'],[1255,COL.oi,'P8 Infarct'],[1313,COL.os,'P8 Sham']].forEach(r=>{
  layout.shapes.push({type:'line',xref:'paper',yref:'paper',x0:2040/W,x1:2122/W,y0:1-r[0]/H,y1:1-r[0]/H,line:{color:r[1],width:5}});
  note(r[2],2134,r[0]-2,58,{xanchor:'left'});
});

/* Text */
const bold=s=>({font:{size:s,family:FONT,color:'#000',weight:700}});
note('A',45,55,90,bold(90));
note('B',37,2188,96,bold(96));
note('C',1463,2189,96,bold(96));
note('D',2301,2189,96,bold(96));
[['Ccr2',597,123],['Cxcr4',1413,128],['Timd4',2227,135],['Spp1',3013,125]].forEach(t=>note(t[0],t[1],t[2],88));
note('UMAP_2',147,537,69,{textangle:-90});
note('UMAP_1',1795,1022,70);
note('Max',3453,220,73);note('Min',3448,357,73);
[['DC',310,216],['DC2/MI4',331,311],['Prolif',853,337],['MHC2/Ccr2',557,407],['MHC2',442,473],['Timd4',761,526],['Isg',599,580],['Monocyte',390,656],['Stromal',878,644],['MI2',616,696],['MI3',436,777],['MI1',872,804],['HIF1a',683,869],
 ['Ccr2',3118,407],['Timd4',2906,510],['Cxcr4',2962,821],['Ccr2',1181,2541],['Timd4',976,2643],['Cxcr4',1048,2951]].forEach(t=>note(t[0],t[1],t[2],60));
const YT='Relative Expression in TPM',XT='Time Post Infarct (Days)';
note(YT,370,1489,58,{textangle:-90});
note(YT,32,2702,58,{textangle:-90});
note(YT,2305,2657,58,{textangle:-90});
note(XT,2539,2028,60);note(XT,1950,3184,60);note(XT,3266,3174,60);
note('Average Z-Scores of',1459,2688,58,{textangle:-90});
note('Matricellular Genes',1533,2692,58,{textangle:-90});
[['Ccl2',687,1159],['Cxcl12',1251,1162],['Ccl2',1830,1163],['Cxcl12',2693,1163],['Igf2bp3',427,2341],['Ccl24',783,2330],['Tlr2',2525,2434],['Ace',3044,2301]].forEach(t=>note(t[0],t[1],t[2],72));
note('UMAP_2',615,2695,70,{textangle:-90});
note('UMAP_1',1105,3148,70);
note('Max',826,2869,73);note('Min',819,3005,73);
[[858,1152],[955,1392],[1483,1148],[1947,1389],[2630,1371],[2826,1486],[3233,1156],[203,2334],[310,2390],[1933,2280],[2162,2302],[2702,2271],[2806,2355],[3025,2786],[3193,2629],[3490,2271]].forEach(p=>star(p[0],p[1]));

Plotly.newPlot('chart',traces,layout,{displayModeBar:false,responsive:false});
</script></body></html>
